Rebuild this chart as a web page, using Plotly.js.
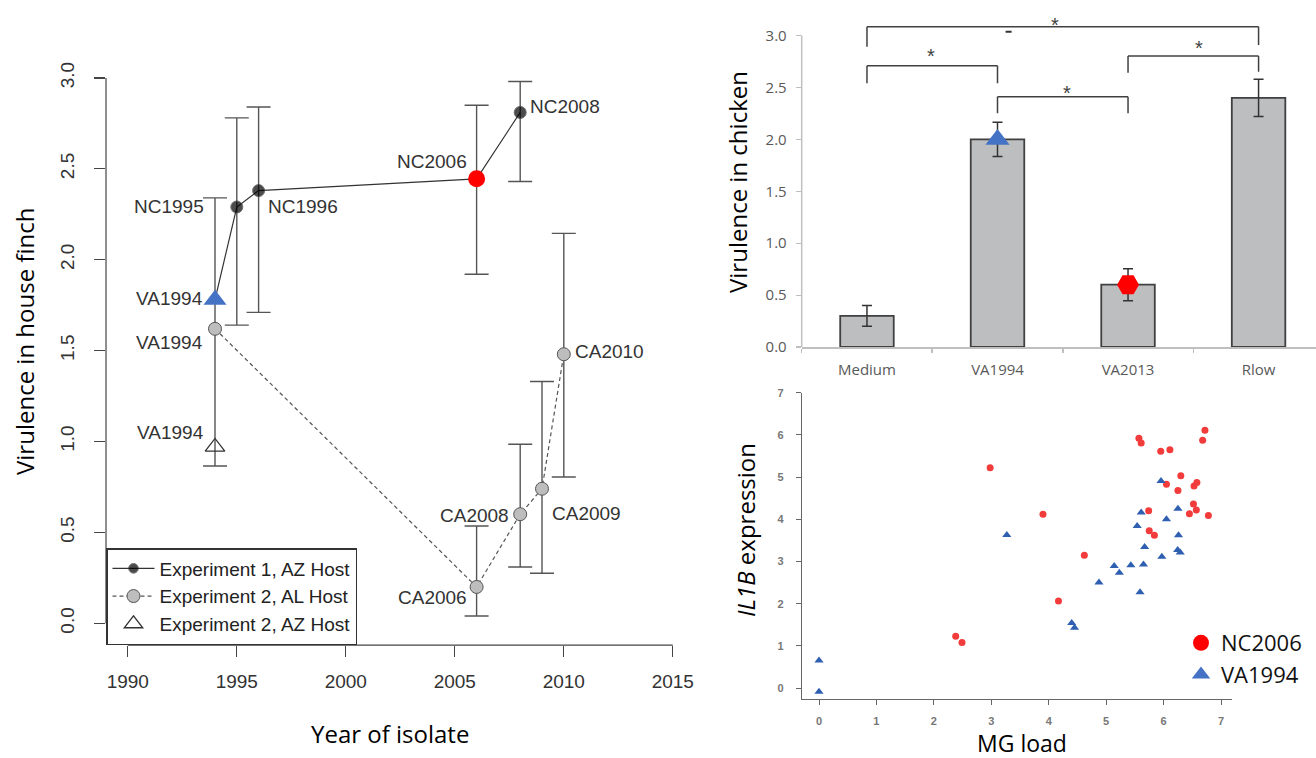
<!DOCTYPE html>
<html><head><meta charset="utf-8">
<script src="https://cdn.plot.ly/plotly-3.0.1.min.js"></script>
<style>html,body{margin:0;padding:0;background:#fff;} #chart{width:1316px;height:758px;}</style>
</head><body><div id="chart"></div>
<script>
// ---------------- Panel A: virulence in house finch ----------------
const exp1Labels = ['VA1994', 'NC1995', 'NC1996', 'NC2006', 'NC2008'];
const exp1Years  = [1994, 1995, 1996, 2006, 2008];
const exp1Vir    = [1.78, 2.29, 2.38, 2.445, 2.81];
const exp1Low    = [null, 1.64, 1.71, 1.92, 2.43];
const exp1High   = [null, 2.78, 2.84, 2.85, 2.98];

const exp2ALLabels = ['VA1994', 'CA2006', 'CA2008', 'CA2009', 'CA2010'];
const exp2ALYears  = [1994, 2006, 2008, 2009, 2010];
const exp2ALVir    = [1.62, 0.20, 0.60, 0.74, 1.48];
const exp2ALLow    = [0.865, 0.04, 0.31, 0.275, 0.805];
const exp2ALHigh   = [2.34, 0.535, 0.985, 1.33, 2.145];

const exp2AZLabels = ['VA1994'];
const exp2AZYears  = [1994];
const exp2AZVir    = [0.97];

const xTicksA = [1990, 1995, 2000, 2005, 2010, 2015];
const yTicksA = [0, 0.5, 1, 1.5, 2, 2.5, 3];

// ---------------- Panel B: virulence in chicken ----------------
const barCategories = ['Medium', 'VA1994', 'VA2013', 'Rlow'];
const barValues = [0.30, 2.00, 0.60, 2.40];
const barErrors = [0.10, 0.165, 0.155, 0.18];
const sigPairs = [[0, 3], [0, 1], [1, 2], [2, 3]];
const sigMarks = ['*', '*', '*', '*'];
const yTicksB = [0, 0.5, 1, 1.5, 2, 2.5, 3];

// ---------------- Panel C: IL1B expression vs MG load ----------------
const nc2006Load = [2.38, 2.49, 2.98, 3.90, 4.17, 4.62, 5.57, 5.61, 5.74, 5.75, 5.84, 5.95, 6.05, 6.11, 6.25, 6.30, 6.45, 6.52, 6.53, 6.57, 6.58, 6.68, 6.72, 6.78];
const nc2006IL1B = [1.23, 1.08, 5.22, 4.12, 2.06, 3.15, 5.92, 5.81, 4.20, 3.73, 3.62, 5.61, 4.83, 5.65, 4.68, 5.03, 4.13, 4.36, 4.79, 4.22, 4.87, 5.87, 6.11, 4.09];
const va1994Load = [0, 0, 3.27, 4.40, 4.45, 4.875, 5.14, 5.23, 5.43, 5.54, 5.59, 5.61, 5.65, 5.67, 5.955, 5.97, 6.05, 6.245, 6.25, 6.26, 6.29];
const va1994IL1B = [0.65, -0.09, 3.63, 1.54, 1.43, 2.50, 2.89, 2.73, 2.91, 3.84, 2.27, 4.16, 2.93, 3.34, 4.905, 3.11, 4.00, 3.27, 4.25, 3.62, 3.21];
const xTicksC = [0, 1, 2, 3, 4, 5, 6, 7];
const yTicksC = [0, 1, 2, 3, 4, 5, 6, 7];

// ---------------- helpers ----------------
const W = 1316, H = 758;
const fx = p => p / W;
const fy = p => 1 - p / H;
const plus  = (v, hi) => v.map((y, i) => hi[i] === null ? NaN : hi[i] - y);
const minus = (v, lo) => v.map((y, i) => lo[i] === null ? NaN : y - lo[i]);
const pick = (labels, arr, name) => arr.filter((_, i) => labels[i] === name);

const blueA = 'VA1994', redA = 'NC2006';
const fontR = 'Liberation Sans, Arial, sans-serif';
const fontC = 'Open Sans, Noto Sans, sans-serif';

const traces = [
  { // Experiment 1
    type: 'scatter', mode: 'lines+markers', name: 'Experiment 1, AZ Host',
    x: exp1Years, y: exp1Vir, xaxis: 'x', yaxis: 'y',
    line: { color: '#333', width: 1.2 },
    marker: { color: '#000', size: exp1Labels.map(l => l === blueA ? 0 : 12) },
    error_y: { type: 'data', symmetric: false, array: plus(exp1Vir, exp1High), arrayminus: minus(exp1Vir, exp1Low),
               color: '#555', thickness: 1.4, width: 12 }
  },
  { // Experiment 2 AL host
    type: 'scatter', mode: 'lines+markers', name: 'Experiment 2, AL Host',
    x: exp2ALYears, y: exp2ALVir, xaxis: 'x', yaxis: 'y',
    line: { color: '#555', width: 1.2, dash: '4px,3px' },
    marker: { color: '#bdbdbd', size: 13, line: { color: '#555', width: 1 } },
    error_y: { type: 'data', symmetric: false, array: plus(exp2ALVir, exp2ALHigh), arrayminus: minus(exp2ALVir, exp2ALLow),
               color: '#555', thickness: 1.4, width: 12 }
  },
  { // Experiment 2 AZ host
    type: 'scatter', mode: 'markers', name: 'Experiment 2, AZ Host',
    x: exp2AZYears, y: exp2AZVir, xaxis: 'x', yaxis: 'y',
    marker: { symbol: 'triangle-up-open', color: '#333', size: 17, line: { width: 1.3 } }
  },
  { // highlighted VA1994
    type: 'scatter', mode: 'markers', showlegend: false,
    x: pick(exp1Labels, exp1Years, blueA), y: pick(exp1Labels, exp1Vir, blueA), xaxis: 'x', yaxis: 'y',
    marker: { symbol: 'triangle-up', color: '#4472c4', size: 20 }
  },
  { // highlighted NC2006
    type: 'scatter', mode: 'markers', showlegend: false,
    x: pick(exp1Labels, exp1Years, redA), y: pick(exp1Labels, exp1Vir, redA), xaxis: 'x', yaxis: 'y',
    marker: { symbol: 'circle', color: '#ff0000', size: 17 }
  },
  // ---- Panel B ----
  {
    type: 'bar', x: barCategories, y: barValues, xaxis: 'x2', yaxis: 'y2', showlegend: false, width: 0.41,
    marker: { color: '#bdbec0', line: { color: '#404040', width: 1.8 } },
    error_y: { type: 'data', array: barErrors, color: '#333', thickness: 1.5, width: 5 }
  },
  {
    type: 'scatter', mode: 'markers', showlegend: false, xaxis: 'x2', yaxis: 'y2',
    x: [barCategories[1]], y: [barValues[1]],
    marker: { symbol: 'triangle-up', color: '#4472c4', size: 21 }
  },
  {
    type: 'scatter', mode: 'markers', showlegend: false, xaxis: 'x2', yaxis: 'y2',
    x: [barCategories[2]], y: [barValues[2]],
    marker: { symbol: 'hexagon2', color: '#ff0000', size: 22 }
  },
  // ---- Panel C ----
  {
    type: 'scatter', mode: 'markers', showlegend: false, xaxis: 'x3', yaxis: 'y3',
    x: nc2006Load, y: nc2006IL1B, marker: { symbol: 'circle', color: '#f23b3b', size: 7 }
  },
  {
    type: 'scatter', mode: 'markers', showlegend: false, xaxis: 'x3', yaxis: 'y3',
    x: va1994Load, y: va1994IL1B, marker: { symbol: 'triangle-up', color: '#2e5fb0', size: 8 }
  },
  { // legend keys
    type: 'scatter', mode: 'markers', name: 'NC2006', legend: 'legend2', xaxis: 'x3', yaxis: 'y3',
    x: [null], y: [null], marker: { symbol: 'circle', color: '#ff0000', size: 16 }
  },
  {
    type: 'scatter', mode: 'markers', name: 'VA1994', legend: 'legend2', xaxis: 'x3', yaxis: 'y3',
    x: [null], y: [null], marker: { symbol: 'triangle-up', color: '#4472c4', size: 16 }
  }
];

// point labels in panel A
const annotations = [];
const labelPlace = {
  exp1:   [['right', -10, 1], ['right', -31, 0], ['left', 7, -16], ['right', -8, 17], ['left', 8, 6]],
  exp2AL: [['right', -10, -14], ['right', -8, -11], ['right', -9, -1.5], ['left', 8, -25], ['left', 9, 3]],
  exp2AZ: [['right', -9, 14]]
};
function addLabels(labels, xs, ys, place) {
  labels.forEach((t, i) => annotations.push({
    xref: 'x', yref: 'y', x: xs[i], y: ys[i], text: t, showarrow: false,
    xanchor: place[i][0], yanchor: 'middle', xshift: place[i][1], yshift: place[i][2],
    font: { family: fontR, size: 19, color: '#333' }
  }));
}
addLabels(exp1Labels, exp1Years, exp1Vir, labelPlace.exp1);
addLabels(exp2ALLabels, exp2ALYears, exp2ALVir, labelPlace.exp2AL);
addLabels(exp2AZLabels, exp2AZYears, exp2AZVir, labelPlace.exp2AZ);

// titles
const titleFont = { family: fontC, size: 24, color: '#000' };
const title = (px, py, text, angle, size) => ({ xref: 'paper', yref: 'paper', x: fx(px), y: fy(py), text: text,
  textangle: angle || 0, xanchor: 'center', yanchor: 'middle', showarrow: false,
  font: Object.assign({}, titleFont, size ? { size: size } : {}) });
annotations.push(
  title(24, 342, 'Virulence in house finch', -90),
  title(390, 733, 'Year of isolate'),
  title(738, 182, 'Virulence in chicken', -90),
  title(745, 530, '<i>IL1B</i> expression', -90),
  title(1022, 743, 'MG load', 0, 23)
);

// significance brackets (panel B)
const bracketGeom = [
  { top: 3.086, left: 2.893, right: 2.909, sx: 1.44, sy: 3.134 },
  { top: 2.71,  left: 2.54,  right: 2.54,  sx: 0.49, sy: 2.829 },
  { top: 2.411, left: 2.251, right: 2.251, sx: 1.53, sy: 2.476 },
  { top: 2.803, left: 2.643, right: 2.652, sx: 2.54, sy: 2.909 }
];
const shapes = [];
const bl = { color: '#404040', width: 1.5 };
sigPairs.forEach((p, k) => {
  const g = bracketGeom[k];
  shapes.push(
    { type: 'line', xref: 'x2', yref: 'y2', x0: p[0], x1: p[0], y0: g.left, y1: g.top, line: bl },
    { type: 'line', xref: 'x2', yref: 'y2', x0: p[0], x1: p[1], y0: g.top, y1: g.top, line: bl },
    { type: 'line', xref: 'x2', yref: 'y2', x0: p[1], x1: p[1], y0: g.top, y1: g.right, line: bl }
  );
  annotations.push({ xref: 'x2', yref: 'y2', x: g.sx, y: g.sy, yshift: -3, text: sigMarks[k], showarrow: false,
    xanchor: 'center', yanchor: 'middle', font: { family: fontR, size: 20, color: '#404040' } });
});
shapes.push({ type: 'line', xref: 'x2', yref: 'y2', x0: 1.062, x1: 1.108, y0: 3.037, y1: 3.037, line: { color: '#333', width: 2.2 } });

// axis lines for panel A (R style, spanning tick range only) and panel B y axis
shapes.push(
  { type: 'line', xref: 'x', yref: 'y domain', x0: xTicksA[0], x1: xTicksA[xTicksA.length - 1], y0: 0, y1: 0, line: { color: '#444', width: 1.2 } },
  { type: 'line', xref: 'x domain', yref: 'y', x0: 0, x1: 0, y0: yTicksA[0], y1: yTicksA[yTicksA.length - 1], line: { color: '#444', width: 1.2 } },
  { type: 'line', xref: 'x2 domain', yref: 'y2', x0: 0, x1: 0, y0: yTicksB[0], y1: yTicksB[yTicksB.length - 1], line: { color: '#c0c0c0', width: 1.5 } }
);

const tickR = { family: fontR, size: 19, color: '#333' };
const layout = {
  width: W, height: H, margin: { l: 0, r: 0, t: 0, b: 0 },
  paper_bgcolor: '#fff', plot_bgcolor: 'rgba(0,0,0,0)', showlegend: true,
  xaxis: { domain: [fx(106), fx(694.6)], range: [1989, 2016], anchor: 'y', tickvals: xTicksA, ticks: 'outside', ticklen: 11,
           tickwidth: 1.2, tickcolor: '#444', showgrid: false, zeroline: false, showline: false, tickfont: tickR, ticklabelstandoff: 8 },
  yaxis: { domain: [fy(645.1), fy(56.1)], range: [-0.12, 3.12], anchor: 'x', tickvals: yTicksA, tickformat: '.1f', ticks: 'outside', ticklen: 11,
           tickwidth: 1.2, tickcolor: '#444', showgrid: false, zeroline: false, showline: false, tickfont: tickR, tickangle: -90, ticklabelstandoff: 12 },
  xaxis2: { domain: [fx(801.7), 1], range: [-0.5, 3.44], anchor: 'y2', type: 'category', tickson: 'boundaries', ticks: 'outside', ticklen: 4,
            tickcolor: '#bfbfbf', tickwidth: 1.5, showline: true, linecolor: '#bfbfbf', linewidth: 1.5, showgrid: false, zeroline: false,
            tickfont: { family: fontC, size: 15, color: '#595959' }, ticklabelstandoff: 8 },
  yaxis2: { domain: [fy(347), 1], range: [0, 3.343], anchor: 'x2', tickvals: yTicksB, tickformat: '.1f', ticks: 'outside', ticklen: 5,
            tickcolor: '#bfbfbf', tickwidth: 1.2, showline: false, showgrid: false, zeroline: false,
            tickfont: { family: fontC, size: 15, color: '#595959' }, ticklabelstandoff: 6 },
  xaxis3: { domain: [fx(802), fx(1231.7)], range: [-0.296, 7.186], anchor: 'y3', tickvals: xTicksC, ticks: 'outside', ticklen: 5,
            tickcolor: '#666', showline: true, linecolor: '#666', linewidth: 1.3, showgrid: false, zeroline: false,
            tickfont: { family: fontR, size: 11, color: '#777', weight: 'bold' }, ticklabelstandoff: 6 },
  yaxis3: { domain: [fy(699), fy(392.7)], range: [-0.26, 7], anchor: 'x3', tickvals: yTicksC, ticks: 'outside', ticklen: 5,
            tickcolor: '#666', showline: true, linecolor: '#666', linewidth: 1.3, showgrid: false, zeroline: false,
            tickfont: { family: fontR, size: 11, color: '#777', weight: 'bold' }, ticklabelstandoff: 10 },
  legend: { x: fx(106), y: fy(645), xanchor: 'left', yanchor: 'bottom', bgcolor: '#fff', bordercolor: '#333', borderwidth: 1.5,
            font: { family: fontR, size: 19, color: '#222' }, itemwidth: 42, tracegroupgap: 0 },
  legend2: { x: fx(1181), y: fy(622), xanchor: 'left', yanchor: 'top', bgcolor: 'rgba(0,0,0,0)', borderwidth: 0,
             font: { family: fontC, size: 22, color: '#111' }, itemwidth: 30 },
  shapes: shapes,
  annotations: annotations
};

Plotly.newPlot('chart', traces, layout, { displayModeBar: false, staticPlot: true });
</script></body></html>
